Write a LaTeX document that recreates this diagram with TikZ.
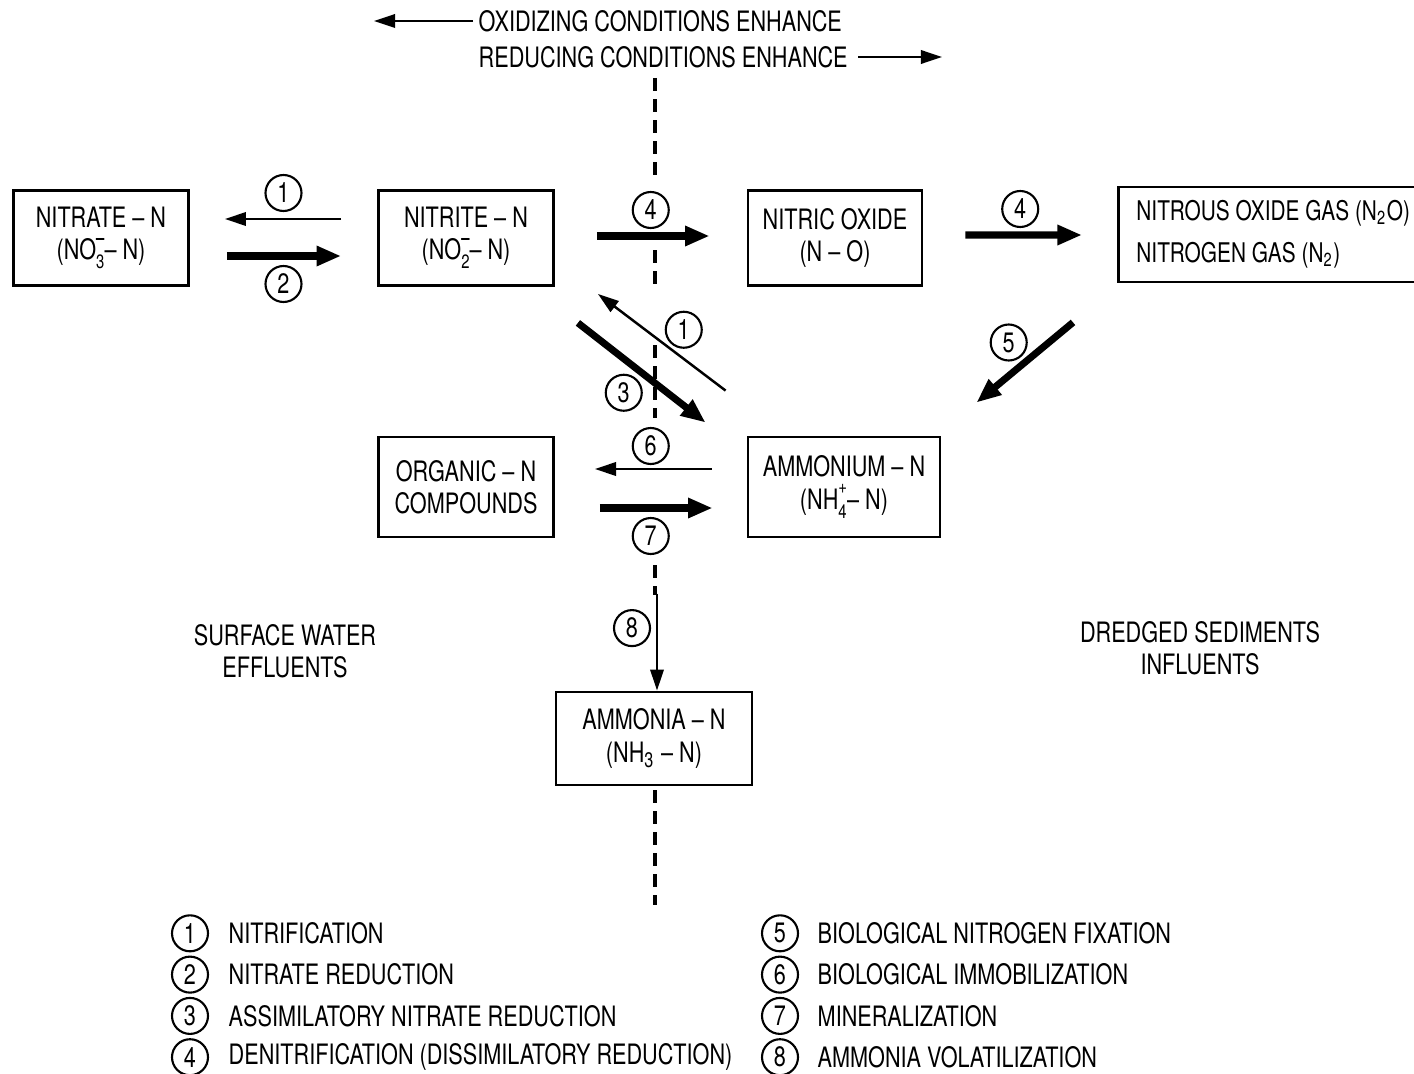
\documentclass[tikz,border=0pt]{standalone}
\usepackage{fontspec}
\setmainfont{TeX Gyre Heros}[FakeStretch=0.77]
\usetikzlibrary{arrows.meta}
\newcommand{\subsup}[2]{\raisebox{-0.6ex}{\fontsize{5.5}{5}\selectfont\shortstack[l]{#2\\#1}}}

\begin{document}
\begin{tikzpicture}[x=0.1mm,y=-0.1mm,
		font=\fontsize{8}{9.2}\selectfont,
		box/.style={draw,line width=0.8pt,align=center,inner sep=0pt},
		num/.style={draw,circle,line width=0.6pt,minimum size=3.6mm,inner sep=0pt},
		thin arrow/.style={line width=0.7pt,-{Triangle[length=6pt,width=3.8pt]}},
		thick arrow/.style={line width=2pt,-{Triangle[length=7pt,width=5.4pt]}},
		divider/.style={line width=0.9pt,dash pattern=on 3.6pt off 2.4pt}]
		\useasboundingbox (0,0) rectangle (1414,1073);

		\node[box,minimum width=17.5mm,minimum height=9.5mm] (nitrate) at (101,238) {NITRATE -- N\\(NO\subsup{3}{\textbf{--}}-- N)};
		\node[box,minimum width=17.5mm,minimum height=9.5mm] (nitrite) at (466,238) {NITRITE -- N\\(NO\subsup{2}{\textbf{--}}-- N)};
		\node[box,minimum width=17.4mm,minimum height=9.5mm] (nitric) at (835,238) {NITRIC OXIDE\\(N -- O)};
		\node[box,anchor=west,minimum height=9.5mm,text width=32mm,inner xsep=1.8mm,align=flush left,font=\fontsize{7.7}{12}\selectfont] (nitrous) at (1117,234.5) {NITROUS OXIDE GAS (N\textsubscript{2}O)\\NITROGEN GAS (N\textsubscript{2})};
		\node[box,minimum width=17.5mm,minimum height=10mm] (organic) at (466,487) {ORGANIC -- N\\COMPOUNDS};
		\node[box,minimum width=19.2mm,minimum height=10mm] (ammonium) at (844,487) {AMMONIUM -- N\\(NH\subsup{4}{+}-- N)};
		\node[box,minimum width=19.6mm,minimum height=9.3mm] (ammonia) at (654,738.5) {AMMONIA -- N\\(NH\textsubscript{3} -- N)};

		\node[anchor=west,inner sep=0.5mm] (oxid) at (473,21) {OXIDIZING CONDITIONS ENHANCE};
		\node[anchor=west,inner sep=0.5mm] (reduc) at (473,57) {REDUCING CONDITIONS ENHANCE};
		\coordinate (oxend) at (374,21);
		\coordinate (redend) at (942,57);
		\draw[thin arrow] (oxid.west) -- (oxend);
		\draw[thin arrow] ([xshift=0.5mm]reduc.east) -- (redend);

		\draw[divider] (655,78) -- (655,175);
		\draw[divider] (655,250) -- (655,290);
		\draw[divider] (655,345) -- (655,418);
		\draw[divider] (655,565) -- (655,595);
		\draw[divider] (655,790) -- (655,905);

		\draw[thin arrow,shorten <=3.6mm,shorten >=3.5mm] ([yshift=1.9mm]nitrite.west) -- ([yshift=1.9mm]nitrate.east) node[num,midway,yshift=2.6mm]{1};
		\draw[thick arrow,shorten <=3.7mm,shorten >=3.6mm] ([yshift=-1.8mm]nitrate.east) -- ([yshift=-1.8mm]nitrite.west) node[num,midway,yshift=-2.8mm]{2};
		\draw[thick arrow,shorten <=4.2mm,shorten >=3.7mm] ([yshift=0.2mm]nitrite.east) -- ([yshift=0.2mm]nitric.west) node[num,midway,yshift=2.6mm]{4};
		\draw[thick arrow,shorten <=4.2mm,shorten >=3.5mm] ([yshift=0.3mm]nitric.east) -- ([yshift=-0.05mm]nitrous.west) node[num,midway,yshift=2.6mm]{4};
		\draw[thin arrow] ([shift={(-21,-45)}]ammonium.north west) -- ([shift={(43,7)}]nitrite.south east) node[num,midway,xshift=2.2mm,yshift=1.25mm]{1};
		\draw[thick arrow] ([shift={(23,36)}]nitrite.south east) -- ([shift={(-41,-13)}]ammonium.north west) node[num,midway,xshift=-1.8mm,yshift=-2mm]{3};
		\draw[thick arrow] ([shift={(-44,39)}]nitrous.south west) -- ([shift={(35,-33)}]ammonium.north east) node[num,midway,xshift=-1.6mm,yshift=2mm]{5};
		\draw[thin arrow,shorten <=3.5mm,shorten >=4mm] ([yshift=1.8mm]ammonium.west) -- ([yshift=1.8mm]organic.east) node[num,midway,yshift=2.3mm]{6};
		\draw[thick arrow,shorten <=4.5mm,shorten >=3.4mm] ([yshift=-2.1mm]organic.east) -- ([yshift=-2.1mm]ammonium.west) node[num,midway,yshift=-2.8mm]{7};
		\draw[thin arrow] ([xshift=0.3mm,yshift=9.7mm]ammonia.north) -- ([xshift=0.3mm]ammonia.north) node[num,midway,xshift=-2.5mm,yshift=1.4mm]{8};

		\node[align=center] (surface) at (285,651) {SURFACE WATER\\EFFLUENTS};
		\node[align=center] (dredged) at (1200,648) {DREDGED SEDIMENTS\\INFLUENTS};

		\foreach \n/\txt [count=\i] in {1/NITRIFICATION,2/NITRATE REDUCTION,3/ASSIMILATORY NITRATE REDUCTION,4/DENITRIFICATION (DISSIMILATORY REDUCTION)}{
			\node[num] (leg\n) at (190,{892+41.3*\i}) {\n};
			\node[anchor=west,inner sep=0pt] (legtxt\n) at (228,{892+41.3*\i}) {\txt};
		}
		\foreach \n/\txt [count=\i] in {5/BIOLOGICAL NITROGEN FIXATION,6/BIOLOGICAL IMMOBILIZATION,7/MINERALIZATION,8/AMMONIA VOLATILIZATION}{
			\node[num] (leg\n) at (780,{892+41.3*\i}) {\n};
			\node[anchor=west,inner sep=0pt] (legtxt\n) at (817,{892+41.3*\i}) {\txt};
		}
\end{tikzpicture}
\end{document}
